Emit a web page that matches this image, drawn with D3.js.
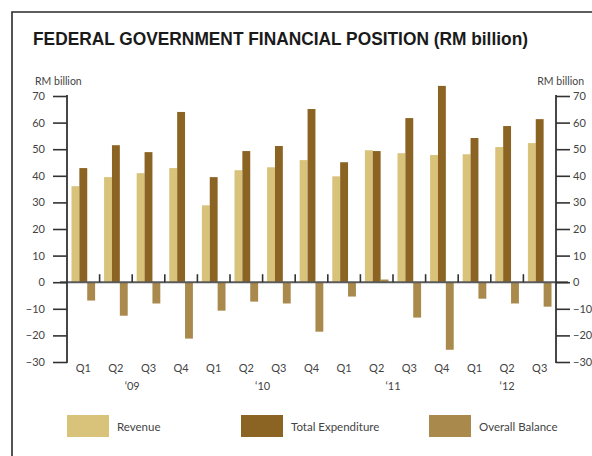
<!DOCTYPE html>
<html>
<head>
<meta charset="utf-8">
<script src="https://cdn.jsdelivr.net/npm/d3@7"></script>
<style>
  html, body { margin: 0; padding: 0; background: #fff; }
  svg { display: block; }
  text { font-family: Lato, "Noto Sans", sans-serif; fill: #444; }
</style>
</head>
<body>
<svg id="chart" width="592" height="456"></svg>
<script>
// Quarterly federal government financial position, RM billion
const quarters = ["Q1","Q2","Q3","Q4","Q1","Q2","Q3","Q4","Q1","Q2","Q3","Q4","Q1","Q2","Q3"];
const years = ["‘09","‘10","‘11","‘12"];
const yearQuarterCount = [4, 4, 4, 3];
const revenue =      [36.1, 39.5, 41.0, 42.9, 28.9, 42.1, 43.2, 45.9, 39.8, 49.6, 48.5, 47.8, 48.1, 50.8, 52.3];
const expenditure =  [42.9, 51.5, 48.9, 64.0, 39.5, 49.3, 51.2, 65.1, 45.1, 49.3, 61.7, 73.8, 54.2, 58.7, 61.3];
const balance =      [-6.9, -12.6, -8.0, -21.2, -10.7, -7.3, -8.0, -18.6, -5.4, 1.0, -13.3, -25.4, -6.2, -8.0, -9.2];
const seriesNames = ["Revenue", "Total Expenditure", "Overall Balance"];
const seriesColors = ["#D9C27A", "#8B6322", "#A9894C"];
const yTicks = [-30, -20, -10, 0, 10, 20, 30, 40, 50, 60, 70];

const svg = d3.select("#chart");

// Frame
svg.append("path")
  .attr("d", "M12,460 V12 H600")
  .attr("fill", "none")
  .attr("stroke", "#2a2a2a")
  .attr("stroke-width", 1.6);

// Title
svg.append("text")
  .attr("x", 33).attr("y", 45)
  .attr("textLength", 495).attr("lengthAdjust", "spacingAndGlyphs")
  .style("font-family", "'Liberation Sans', Arial, sans-serif")
  .style("font-weight", "bold").style("font-size", "19px")
  .style("fill", "#1a1a1a")
  .text("FEDERAL GOVERNMENT FINANCIAL POSITION (RM billion)");

const left = 67, right = 556;
const y = d3.scaleLinear().domain([-30, 70]).range([362, 96]);
const x = d3.scaleBand().domain(d3.range(quarters.length)).range([left, right]).paddingInner(0).paddingOuter(0);
const xs = d3.scaleBand().domain([0, 1, 2]).range([0, x.bandwidth()]).paddingInner(0).paddingOuter(0.57);

// Bars
const seriesData = [revenue, expenditure, balance];
seriesData.forEach((vals, si) => {
  svg.append("g").selectAll("rect")
    .data(vals)
    .join("rect")
    .attr("x", (d, i) => x(i) + xs(si))
    .attr("width", xs.bandwidth())
    .attr("y", d => y(Math.max(0, d)))
    .attr("height", d => Math.abs(y(d) - y(0)))
    .attr("fill", seriesColors[si]);
});

// Zero line and group separators
svg.append("line")
  .attr("x1", left - 7).attr("x2", right + 12)
  .attr("y1", y(0)).attr("y2", y(0))
  .attr("stroke", "#5a5a5a").attr("stroke-width", 2);
svg.append("g").selectAll("line")
  .data(d3.range(1, quarters.length))
  .join("line")
  .attr("x1", i => x(i)).attr("x2", i => x(i))
  .attr("y1", y(0) - 8).attr("y2", y(0))
  .attr("stroke", "#333").attr("stroke-width", 1.6);

// Y axes
const axisStyle = g => {
  g.select(".domain").remove();
  g.selectAll(".tick line").attr("stroke", "#333").attr("stroke-width", 1.6);
  g.selectAll(".tick text").style("font-size", "11px").style("fill", "#444");
};
const leftAxis = svg.append("g").attr("transform", `translate(${left},0)`)
  .call(d3.axisLeft(y).tickValues(yTicks).tickSize(14).tickPadding(8).tickFormat(d3.format("d")))
  .call(axisStyle);
const rightAxis = svg.append("g").attr("transform", `translate(${right},0)`)
  .call(d3.axisRight(y).tickValues(yTicks).tickSize(14).tickPadding(3).tickFormat(d3.format("d")))
  .call(axisStyle);
[left, right].forEach(ax => {
  svg.append("line")
    .attr("x1", ax).attr("x2", ax)
    .attr("y1", y(70) - 1).attr("y2", y(-30) + 1)
    .attr("stroke", "#333").attr("stroke-width", 1.8);
});

// Axis titles
svg.append("text").attr("x", 35).attr("y", 85).style("font-size", "10.5px").text("RM billion");
svg.append("text").attr("x", 584).attr("y", 85).attr("text-anchor", "end").style("font-size", "10.5px").text("RM billion");

// Quarter labels
svg.append("g").selectAll("text")
  .data(quarters)
  .join("text")
  .attr("x", (d, i) => x(i) + x.bandwidth() / 2)
  .attr("y", 372)
  .attr("text-anchor", "middle")
  .style("font-size", "11px")
  .text(d => d);

// Year labels, centred under each year's quarters
let start = 0;
years.forEach((yr, k) => {
  const n = yearQuarterCount[k];
  const cx = (x(start) + x(start + n - 1) + x.bandwidth()) / 2;
  svg.append("text")
    .attr("x", cx).attr("y", 390)
    .attr("text-anchor", "middle")
    .style("font-size", "11px")
    .text(yr);
  start += n;
});

// Legend
const legendX = [67, 241, 429];
seriesNames.forEach((name, i) => {
  svg.append("rect")
    .attr("x", legendX[i]).attr("y", 415)
    .attr("width", 42).attr("height", 22)
    .attr("fill", seriesColors[i]);
  svg.append("text")
    .attr("x", legendX[i] + 50).attr("y", 431)
    .style("font-size", "11.5px")
    .text(name);
});
</script>
</body>
</html>
